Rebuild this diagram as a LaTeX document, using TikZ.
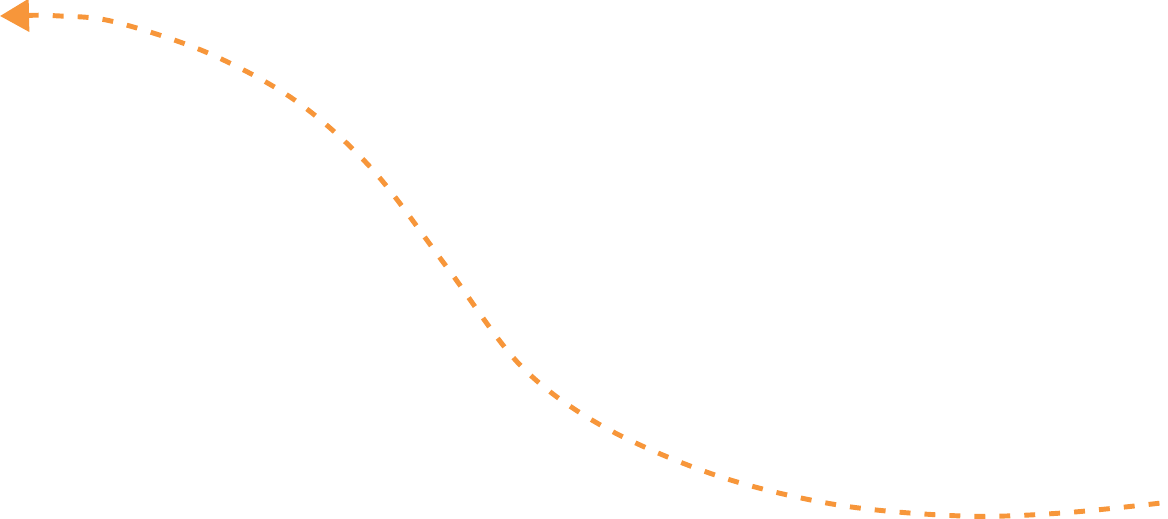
\documentclass[tikz,border=0pt]{standalone}
\usetikzlibrary{arrows.meta}
\definecolor{flowOrange}{HTML}{F7963A}

\begin{document}
\begin{tikzpicture}[x=0.01cm,y=-0.01cm,
    flow/.style = {draw=flowOrange, line width=1.4pt, dash pattern=on 3.1pt off 4pt,
                   {Triangle[length=0.29cm,width=0.32cm,fill=flowOrange]}-}]
				\useasboundingbox (0,0) rectangle (1168,519);
				\coordinate (tip) at (0,16);
				\coordinate (tail) at (1170,502);
				\draw [flow] plot [smooth, tension=0.55] coordinates {(tip) (60,16) (115,22) (208,53) (296,101) (372,169) (446,266) (521,366) (604,427) (718,476) (838,505) (962,516) (1062,513) (tail)};
			\end{tikzpicture}
\end{document}
